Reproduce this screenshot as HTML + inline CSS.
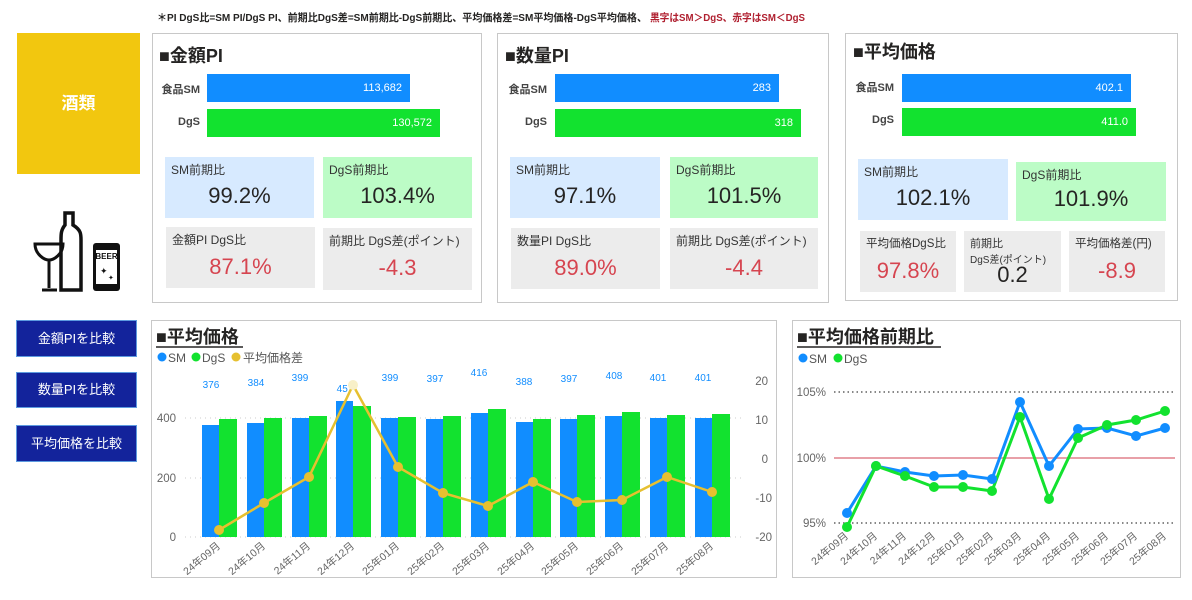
<!DOCTYPE html>
<html><head><meta charset="utf-8"><style>
*{margin:0;padding:0;box-sizing:border-box}
body{width:1192px;height:600px;background:#fff;position:relative;overflow:hidden;font-family:"Liberation Sans","Noto Sans CJK JP",sans-serif;color:#252423}
.a{position:absolute}
.panel{position:absolute;border:1px solid #c8c8c8;background:#fff}
.ttl{position:absolute;font-weight:bold;font-size:18px;color:#252423}
.lbl{position:absolute;font-size:11px;font-weight:bold;color:#444;text-align:right}
.bar{position:absolute;color:#fff;font-size:11px;text-align:right;padding-right:8px;line-height:28px}
.box{position:absolute}
.bt{position:absolute;left:6px;top:4px;font-size:12px;color:#333}
.bv{position:absolute;left:0;right:0;text-align:center;font-size:22px}
.blue{background:#d7eaff}.green{background:#bcfcc6}.gray{background:#ececec}
.red{color:#d64550}
.btn{position:absolute;left:16px;width:121px;background:#13239b;border:1px solid #5d9be0;color:#fff;font-size:13px;text-align:center}
</style></head><body>
<svg class="a" style="left:0;top:0" width="1192" height="30"><text x="157" y="21" font-size="10.5" font-weight="bold" fill="#252423" font-family="Liberation Sans,Noto Sans CJK JP,sans-serif" textLength="490" lengthAdjust="spacingAndGlyphs">＊PI DgS比=SM PI/DgS PI、前期比DgS差=SM前期比-DgS前期比、平均価格差=SM平均価格-DgS平均価格、</text><text x="650" y="21" font-size="10.5" font-weight="bold" fill="#b02030" font-family="Liberation Sans,Noto Sans CJK JP,sans-serif" textLength="155" lengthAdjust="spacingAndGlyphs">黒字はSM＞DgS、赤字はSM＜DgS</text></svg>

<div class="a" style="left:17px;top:33px;width:123px;height:141px;background:#f2c70f;color:#fff;font-size:17px;font-weight:bold;text-align:center;line-height:141px">酒類</div>

<svg class="a" style="left:30px;top:210px" width="90" height="85" viewBox="0 0 90 85">
<path d="M5 34 H33 C33 44 24 50 19 50 C14 50 5 44 5 34Z" fill="none" stroke="#111" stroke-width="3"/>
<path d="M19 50 V78 M12 80 H27" stroke="#111" stroke-width="3"/>
<path d="M35 3 H43 V15 C51 20 51 24 51 30 V80 H31 V30 C31 24 31 20 35 15Z" fill="none" stroke="#111" stroke-width="3.5"/>
<rect x="63" y="33" width="27" height="48" rx="3" fill="#111"/>
<rect x="66" y="40" width="21" height="34" fill="#fff"/>
<text x="76.5" y="49" font-size="8" font-weight="bold" text-anchor="middle" fill="#111" font-family="Liberation Sans">BEER</text>
<text x="70" y="64" font-size="9" fill="#111">✦</text><text x="78" y="70" font-size="7" fill="#111">✦</text>
</svg>

<div class="btn" style="top:320px;height:37px;line-height:35px">金額PIを比較</div>
<div class="btn" style="top:372px;height:36px;line-height:34px">数量PIを比較</div>
<div class="btn" style="top:425px;height:37px;line-height:35px">平均価格を比較</div>

<!-- Panel 1 -->
<div class="panel" style="left:152px;top:33px;width:330px;height:270px"></div>
<div class="ttl" style="left:159px;top:42px">■金額PI</div>
<div class="lbl" style="left:150px;top:81px;width:50px">食品SM</div>
<div class="lbl" style="left:150px;top:116px;width:50px">DgS</div>
<div class="bar" style="left:207px;top:74px;width:203px;height:28px;background:#118dff">113,682</div>
<div class="bar" style="left:207px;top:109px;width:233px;height:28px;background:#12e22f">130,572</div>
<div class="box blue" style="left:165px;top:157px;width:149px;height:61px"><div class="bt">SM前期比</div><div class="bv" style="top:26px">99.2%</div></div>
<div class="box green" style="left:323px;top:157px;width:149px;height:61px"><div class="bt">DgS前期比</div><div class="bv" style="top:26px">103.4%</div></div>
<div class="box gray" style="left:166px;top:227px;width:149px;height:61px"><div class="bt">金額PI DgS比</div><div class="bv red" style="top:27px">87.1%</div></div>
<div class="box gray" style="left:323px;top:228px;width:149px;height:62px"><div class="bt">前期比 DgS差(ポイント)</div><div class="bv red" style="top:27px">-4.3</div></div>

<!-- Panel 2 -->
<div class="panel" style="left:497px;top:33px;width:332px;height:270px"></div>
<div class="ttl" style="left:505px;top:42px">■数量PI</div>
<div class="lbl" style="left:497px;top:81px;width:50px">食品SM</div>
<div class="lbl" style="left:497px;top:116px;width:50px">DgS</div>
<div class="bar" style="left:555px;top:74px;width:224px;height:28px;background:#118dff">283</div>
<div class="bar" style="left:555px;top:109px;width:246px;height:28px;background:#12e22f">318</div>
<div class="box blue" style="left:510px;top:157px;width:150px;height:61px"><div class="bt">SM前期比</div><div class="bv" style="top:26px">97.1%</div></div>
<div class="box green" style="left:670px;top:157px;width:148px;height:61px"><div class="bt">DgS前期比</div><div class="bv" style="top:26px">101.5%</div></div>
<div class="box gray" style="left:511px;top:228px;width:149px;height:61px"><div class="bt">数量PI DgS比</div><div class="bv red" style="top:27px">89.0%</div></div>
<div class="box gray" style="left:670px;top:228px;width:148px;height:61px"><div class="bt">前期比 DgS差(ポイント)</div><div class="bv red" style="top:27px">-4.4</div></div>

<!-- Panel 3 -->
<div class="panel" style="left:845px;top:33px;width:333px;height:268px"></div>
<div class="ttl" style="left:853px;top:38px">■平均価格</div>
<div class="lbl" style="left:842px;top:79px;width:52px">食品SM</div>
<div class="lbl" style="left:842px;top:114px;width:52px">DgS</div>
<div class="bar" style="left:902px;top:74px;width:229px;height:28px;background:#118dff">402.1</div>
<div class="bar" style="left:902px;top:108px;width:234px;height:28px;background:#12e22f">411.0</div>
<div class="box blue" style="left:858px;top:159px;width:150px;height:61px"><div class="bt">SM前期比</div><div class="bv" style="top:26px">102.1%</div></div>
<div class="box green" style="left:1016px;top:162px;width:150px;height:59px"><div class="bt">DgS前期比</div><div class="bv" style="top:24px">101.9%</div></div>
<div class="box gray" style="left:860px;top:231px;width:96px;height:61px"><div class="bt" style="font-size:11.5px">平均価格DgS比</div><div class="bv red" style="top:27px">97.8%</div></div>
<div class="box gray" style="left:964px;top:231px;width:97px;height:61px"><div class="bt" style="font-size:11px">前期比</div><div class="a" style="left:6px;top:20px;font-size:10px;color:#333">DgS差(ポイント)</div><div class="bv" style="top:31px">0.2</div></div>
<div class="box gray" style="left:1069px;top:231px;width:96px;height:61px"><div class="bt" style="font-size:11.5px">平均価格差(円)</div><div class="bv red" style="top:27px">-8.9</div></div>

<!-- Charts -->
<svg class="a" style="left:0;top:0" width="1192" height="600" font-family="Liberation Sans,Noto Sans CJK JP,sans-serif">
<rect x="151.5" y="320.5" width="625" height="257" fill="none" stroke="#c8c8c8"/>
<rect x="792.5" y="320.5" width="388" height="257" fill="none" stroke="#c8c8c8"/>
<text x="156" y="343" font-size="18" font-weight="bold" fill="#252423">■平均価格</text>
<line x1="156" y1="347" x2="243" y2="347" stroke="#252423" stroke-width="1.5"/>
<circle cx="162" cy="357" r="4.5" fill="#118dff"/><text x="168" y="362" font-size="12" fill="#555">SM</text>
<circle cx="196" cy="357" r="4.5" fill="#12e22f"/><text x="202" y="362" font-size="12" fill="#555">DgS</text>
<circle cx="236" cy="357" r="4.5" fill="#e6c030"/><text x="243" y="362" font-size="12" fill="#555">平均価格差</text>
<g stroke="#ccc" stroke-dasharray="1 4"><line x1="185" y1="537" x2="745" y2="537"/><line x1="185" y1="478" x2="745" y2="478"/><line x1="185" y1="418" x2="745" y2="418"/></g>
<g font-size="11.5" fill="#666" text-anchor="end"><text x="176" y="541">0</text><text x="176" y="482">200</text><text x="176" y="422">400</text></g>
<g font-size="11.5" fill="#666" text-anchor="end"><text x="768" y="385">20</text><text x="768" y="424">10</text><text x="768" y="463">0</text><text x="772" y="502">-10</text><text x="772" y="541">-20</text></g>
<g fill="#118dff">
<rect x="202" y="425" width="17" height="112"/><rect x="247" y="423" width="17" height="114"/><rect x="292" y="418" width="17" height="119"/><rect x="336" y="401" width="17" height="136"/><rect x="381" y="418" width="17" height="119"/><rect x="426" y="419" width="17" height="118"/><rect x="471" y="413" width="17" height="124"/><rect x="516" y="422" width="17" height="115"/><rect x="560" y="419" width="17" height="118"/><rect x="605" y="416" width="17" height="121"/><rect x="650" y="418" width="17" height="119"/><rect x="695" y="418" width="17" height="119"/>
</g>
<g fill="#12e22f">
<rect x="219" y="419" width="18" height="118"/><rect x="264" y="418" width="18" height="119"/><rect x="309" y="416" width="18" height="121"/><rect x="353" y="406" width="18" height="131"/><rect x="398" y="417" width="18" height="120"/><rect x="443" y="416" width="18" height="121"/><rect x="488" y="409" width="18" height="128"/><rect x="533" y="419" width="18" height="118"/><rect x="577" y="415" width="18" height="122"/><rect x="622" y="412" width="18" height="125"/><rect x="667" y="415" width="18" height="122"/><rect x="712" y="414" width="18" height="123"/>
</g>
<g font-size="10" fill="#118dff" text-anchor="middle">
<text x="211" y="388">376</text><text x="256" y="386">384</text><text x="300" y="381">399</text><text x="345" y="392">457</text><text x="390" y="381">399</text><text x="435" y="382">397</text><text x="479" y="376">416</text><text x="524" y="385">388</text><text x="569" y="382">397</text><text x="614" y="379">408</text><text x="658" y="381">401</text><text x="703" y="381">401</text>
</g>
<polyline fill="none" stroke="#e6c030" stroke-width="2.5" points="219,530 264,503 309,477 353,385 398,467 443,493 488,506 533,482 577,502 622,500 667,477 712,492"/>
<g fill="#e6c030"><circle cx="219" cy="530" r="5"/><circle cx="264" cy="503" r="5"/><circle cx="309" cy="477" r="5"/><circle cx="353" cy="385" r="5" fill="#f8f0c8"/><circle cx="398" cy="467" r="5"/><circle cx="443" cy="493" r="5"/><circle cx="488" cy="506" r="5"/><circle cx="533" cy="482" r="5"/><circle cx="577" cy="502" r="5"/><circle cx="622" cy="500" r="5"/><circle cx="667" cy="477" r="5"/><circle cx="712" cy="492" r="5"/></g>
<g font-size="10.5" fill="#666" text-anchor="end">
<text transform="translate(221,547) rotate(-40)">24年09月</text><text transform="translate(266,547) rotate(-40)">24年10月</text><text transform="translate(311,547) rotate(-40)">24年11月</text><text transform="translate(355,547) rotate(-40)">24年12月</text><text transform="translate(400,547) rotate(-40)">25年01月</text><text transform="translate(445,547) rotate(-40)">25年02月</text><text transform="translate(490,547) rotate(-40)">25年03月</text><text transform="translate(535,547) rotate(-40)">25年04月</text><text transform="translate(579,547) rotate(-40)">25年05月</text><text transform="translate(624,547) rotate(-40)">25年06月</text><text transform="translate(669,547) rotate(-40)">25年07月</text><text transform="translate(714,547) rotate(-40)">25年08月</text>
</g>

<text x="797" y="343" font-size="18" font-weight="bold" fill="#252423">■平均価格前期比</text>
<line x1="797" y1="347" x2="941" y2="347" stroke="#252423" stroke-width="1.5"/>
<circle cx="803" cy="358" r="4.5" fill="#118dff"/><text x="809" y="363" font-size="12" fill="#555">SM</text>
<circle cx="838" cy="358" r="4.5" fill="#12e22f"/><text x="844" y="363" font-size="12" fill="#555">DgS</text>
<g stroke="#888" stroke-width="2" stroke-dasharray="1.5 3"><line x1="834" y1="392" x2="1175" y2="392"/><line x1="834" y1="523" x2="1175" y2="523"/></g>
<line x1="834" y1="458" x2="1175" y2="458" stroke="#e8a0a8" stroke-width="2"/>
<g font-size="11.5" fill="#666" text-anchor="end"><text x="826" y="396">105%</text><text x="826" y="462">100%</text><text x="826" y="527">95%</text></g>
<polyline fill="none" stroke="#118dff" stroke-width="3" points="847,513 876,466 905,472 934,476 963,475 992,479 1020,402 1049,466 1078,429 1107,428 1136,436 1165,428"/>
<polyline fill="none" stroke="#12e22f" stroke-width="3" points="847,527 876,466 905,476 934,487 963,487 992,491 1020,417 1049,499 1078,438 1107,425 1136,420 1165,411"/>
<g fill="#118dff"><circle cx="847" cy="513" r="5"/><circle cx="876" cy="466" r="5"/><circle cx="905" cy="472" r="5"/><circle cx="934" cy="476" r="5"/><circle cx="963" cy="475" r="5"/><circle cx="992" cy="479" r="5"/><circle cx="1020" cy="402" r="5"/><circle cx="1049" cy="466" r="5"/><circle cx="1078" cy="429" r="5"/><circle cx="1107" cy="428" r="5"/><circle cx="1136" cy="436" r="5"/><circle cx="1165" cy="428" r="5"/></g>
<g fill="#12e22f"><circle cx="847" cy="527" r="5"/><circle cx="876" cy="466" r="5"/><circle cx="905" cy="476" r="5"/><circle cx="934" cy="487" r="5"/><circle cx="963" cy="487" r="5"/><circle cx="992" cy="491" r="5"/><circle cx="1020" cy="417" r="5"/><circle cx="1049" cy="499" r="5"/><circle cx="1078" cy="438" r="5"/><circle cx="1107" cy="425" r="5"/><circle cx="1136" cy="420" r="5"/><circle cx="1165" cy="411" r="5"/></g>
<g font-size="10.5" fill="#666" text-anchor="end">
<text transform="translate(849,537) rotate(-40)">24年09月</text><text transform="translate(878,537) rotate(-40)">24年10月</text><text transform="translate(907,537) rotate(-40)">24年11月</text><text transform="translate(936,537) rotate(-40)">24年12月</text><text transform="translate(965,537) rotate(-40)">25年01月</text><text transform="translate(994,537) rotate(-40)">25年02月</text><text transform="translate(1022,537) rotate(-40)">25年03月</text><text transform="translate(1051,537) rotate(-40)">25年04月</text><text transform="translate(1080,537) rotate(-40)">25年05月</text><text transform="translate(1109,537) rotate(-40)">25年06月</text><text transform="translate(1138,537) rotate(-40)">25年07月</text><text transform="translate(1167,537) rotate(-40)">25年08月</text>
</g>
</svg>
</body></html>
